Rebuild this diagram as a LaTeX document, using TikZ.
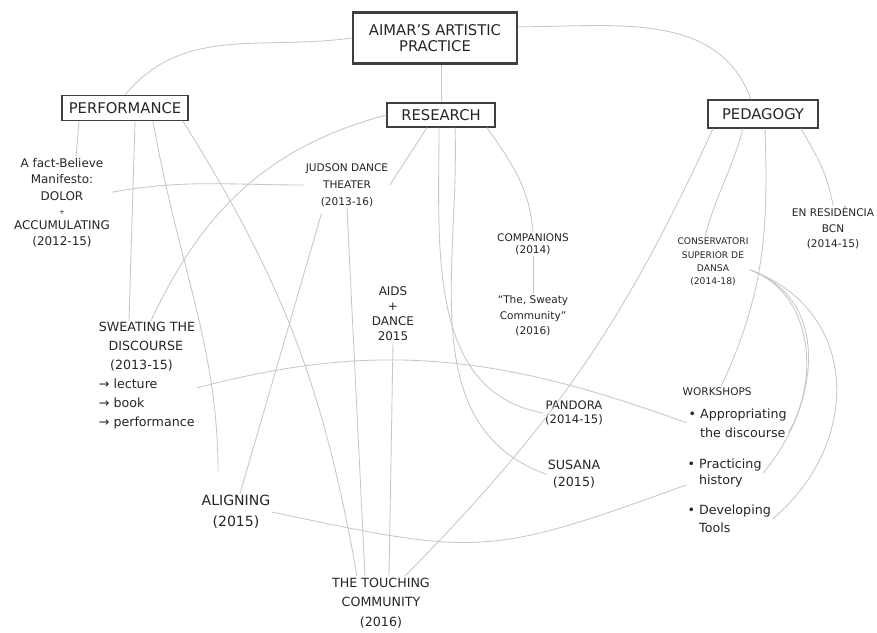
\documentclass[tikz,border=0pt]{standalone}
\usepackage{fontspec}
\setmainfont{DejaVu Sans}
\begin{document}
\begin{tikzpicture}[x=0.025cm, y=0.025cm, node distance=1.8cm]
        % Define styles
        \tikzstyle{box} = [rectangle, draw=black!75, line width=0.9pt, text=black!85, font=\fontsize{10.5}{12}\selectfont, inner sep=2pt]
        \tikzstyle{item} = [align=center, inner sep=1pt, text=black!85, font=\fontsize{8.5}{12}\selectfont]
        \tikzstyle{smallitem} = [item, font=\fontsize{7.5}{9.5}\selectfont]
        \tikzstyle{link} = [draw=black!22, line width=0.6pt]

        \useasboundingbox [fill=white] (0,0) rectangle (877,-633);

        % Place nodes
        \node [box, line width=2pt, minimum width=4.1cm, minimum height=1.28cm, align=center, font=\fontsize{10.5}{11.5}\selectfont] (title) at (435,-38) {AIMAR'S ARTISTIC\\PRACTICE};
        \node [box, minimum width=3.15cm, minimum height=0.63cm] (perf) at (125,-108) {PERFORMANCE};
        \node [box, minimum width=2.7cm, minimum height=0.6cm] (res) at (441,-115) {RESEARCH};
        \node [box, minimum width=2.75cm, minimum height=0.7cm] (ped) at (763,-114) {PEDAGOGY};

        \node [item, font=\fontsize{8.5}{11.5}\selectfont] (fact) at (62,-203) {A fact-Believe\\Manifesto:\\DOLOR\\[-1pt]{\tiny +}\\[-1pt]ACCUMULATING\\(2012-15)};
        \node [item, align=left, font=\fontsize{9}{13.5}\selectfont] (sweat) at (147,-376) {SWEATING THE\\\hspace*{7pt}DISCOURSE\\\hspace*{8pt}(2013-15)\\→ lecture\\→ book\\→ performance};
        \node [item, font=\fontsize{10}{15}\selectfont] (align) at (236,-512) {ALIGNING\\(2015)};
        \node [item, font=\fontsize{9}{14}\selectfont] (touch) at (381,-603) {THE TOUCHING\\COMMUNITY\\(2016)};

        \node [smallitem, font=\fontsize{7.5}{12}\selectfont] (judson) at (347,-185) {JUDSON DANCE\\THEATER\\(2013-16)};
        \node [item, font=\fontsize{8.5}{10.7}\selectfont] (aids) at (393,-314) {AIDS\\+\\DANCE\\2015};
        \node [smallitem, font=\fontsize{7.5}{8.5}\selectfont] (comp) at (533,-244) {COMPANIONS\\(2014)};
        \node [smallitem, below of=comp, font=\fontsize{7.5}{11}\selectfont] (sweaty) {``The, Sweaty\\Community''\\(2016)};
        \node [item, font=\fontsize{8.3}{9.5}\selectfont] (pandora) at (574,-413) {PANDORA\\(2014-15)};
        \node [item, below of=pandora, node distance=1.53cm, font=\fontsize{9}{11.5}\selectfont] (susana) {SUSANA\\(2015)};

        \node [item, font=\fontsize{6.5}{9.5}\selectfont] (cons) at (713,-262) {CONSERVATORI\\SUPERIOR DE\\DANSA\\(2014-18)};
        \node [smallitem, font=\fontsize{7.5}{11}\selectfont] (enres) at (833,-228) {EN RESIDÈNCIA\\BCN\\(2014-15)};
        \node [smallitem, anchor=west] (work) at (681,-392) {WORKSHOPS};
        \node [item, anchor=west, align=left, font=\fontsize{9}{13.5}\selectfont] (app) at (687,-423) {\textbullet\ Appropriating\\\phantom{\textbullet\ }the discourse};
        \node [item, anchor=west, align=left, font=\fontsize{9}{11}\selectfont] (prac) at (686,-473) {\textbullet\ Practicing\\\phantom{\textbullet\ }history};
        \node [item, anchor=west, align=left, font=\fontsize{9}{12.8}\selectfont] (dev) at (686,-519) {\textbullet\ Developing\\\phantom{\textbullet\ }Tools};

        % Draw links
        \path [link] (title.west) to[out=188, in=50] (perf.north);
        \path [link] (res.north) -- (res.north |- title.south);
        \path [link] ([yshift=0.28cm]title.east) to[out=0, in=110] ([xshift=-0.3cm]ped.north);

        \path [link] ([xshift=-1.15cm]perf.south) -- ([xshift=0.35cm]fact.north);
        \path [link] ([xshift=0.25cm]perf.south) -- ([xshift=-0.45cm]sweat.north);
        \path [link, shorten >=16pt] ([xshift=0.7cm]perf.south) to[out=-80, in=90] ([xshift=-0.45cm]align.north);
        \path [link] ([xshift=1.45cm]perf.south) to[out=-58, in=100] ([xshift=-0.6cm]touch.north);

        \path [link] (res.west) to[out=195, in=65] ([xshift=0.1cm]sweat.north);
        \path [link] ([xshift=-0.35cm]res.south) -- (judson.east);
        \path [link] ([xshift=-0.05cm]res.south) to[out=-90, in=170] (pandora.west);
        \path [link] ([xshift=0.35cm]res.south) to[out=-88, in=160] (susana.west);
        \path [link] ([xshift=1.15cm]res.south) to[out=-55, in=95] (comp.north);
        \path [link] (comp.south) -- (sweaty.north);

        \path [link] (judson.south) -- ([xshift=-0.4cm]touch.north);
        \path [link] (aids.south) -- ([xshift=0.2cm]touch.north);
        \path [link] ([yshift=0.27cm]fact.east) to[out=10, in=180] (judson.west);
        \path [link, shorten >=4pt] ([xshift=0.1cm]align.north) -- ([xshift=-0.6cm]judson.south);

        \path [link] ([xshift=-1.25cm]ped.south) to[bend left=10] ([xshift=0.6cm]touch.north);
        \path [link] ([xshift=-0.5cm]ped.south) to[out=-105, in=75] ([xshift=-0.2cm]cons.north);
        \path [link] ([xshift=0.05cm]ped.south) to[out=-88, in=65] ([xshift=0.1cm]work.north);
        \path [link] ([xshift=0.95cm]ped.south) to[out=-60, in=100] (enres.north);

        \path [link] ([yshift=-0.2cm]cons.east) to[out=-20, in=60, looseness=1.0] ([yshift=-0.25cm]app.east);
        \path [link] ([yshift=-0.2cm]cons.east) to[out=-20, in=50, looseness=1.1] (prac.east);
        \path [link] ([yshift=-0.2cm]cons.east) to[out=-20, in=40, looseness=1.2] (dev.east);
        \path [link] ([yshift=-0.3cm]sweat.east) to[out=15, in=160] (app.west);
        \path [link] (align.east) to[out=-12, in=200, looseness=1.3] ([yshift=-0.3cm]prac.west);
\end{tikzpicture}
\end{document}
